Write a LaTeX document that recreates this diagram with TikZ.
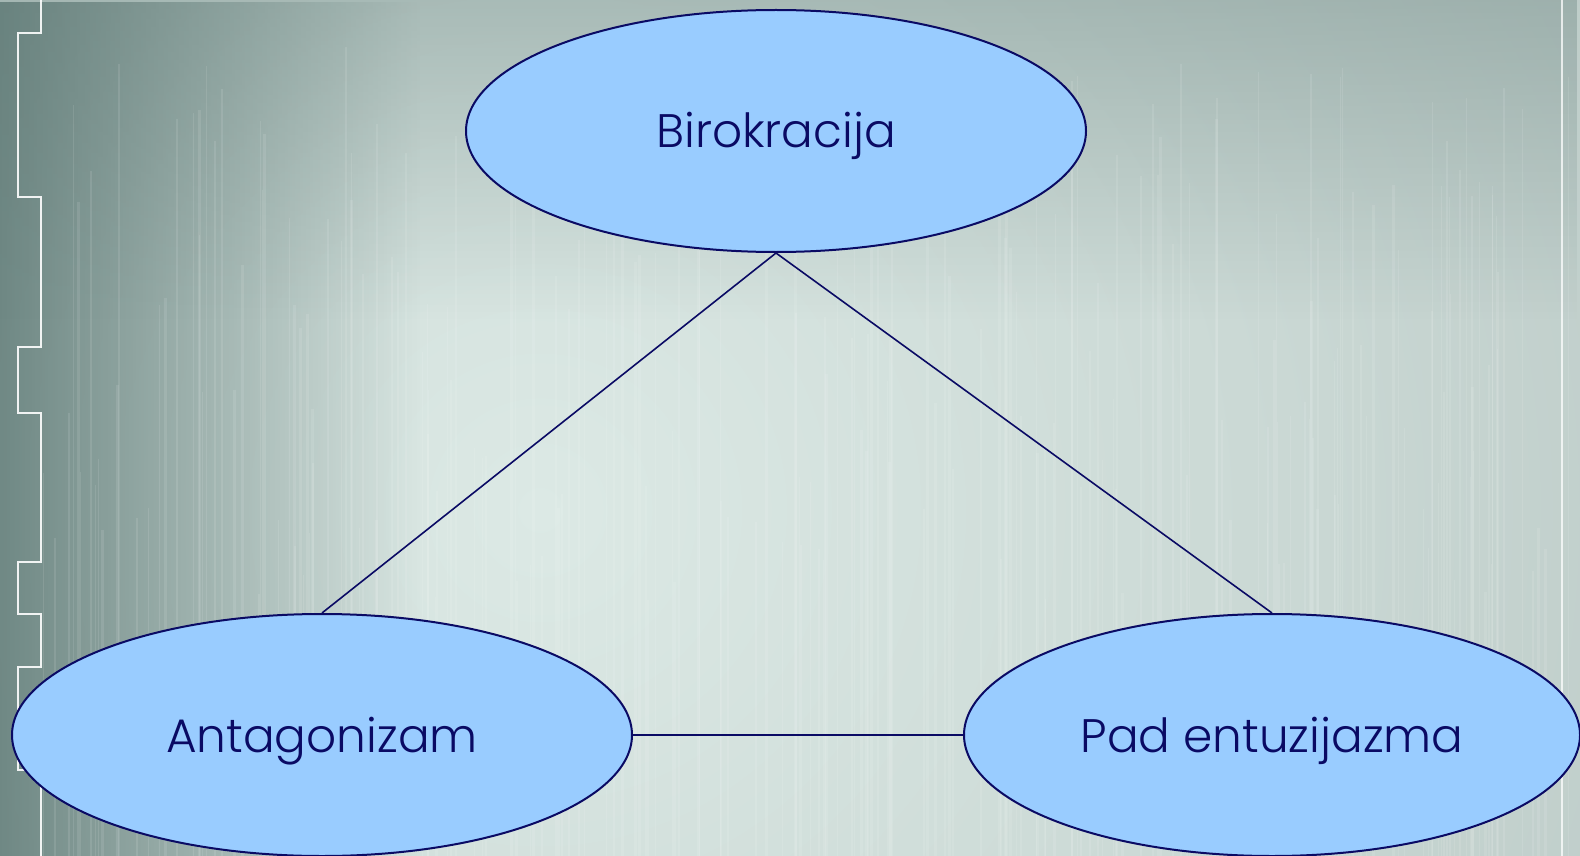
\documentclass[tikz,border=0pt]{standalone}
\usepackage{fontspec}
\setmainfont{Poppins}[UprightFont={* Light}]
\usetikzlibrary{shapes.geometric,fadings}
\definecolor{navy}{HTML}{0A0A64}
\definecolor{ellfill}{HTML}{99CCFF}
\definecolor{bgA}{HTML}{DCE9E5}
\definecolor{bgB}{HTML}{CCDAD6}
\definecolor{bgC}{HTML}{AEBDBA}
\definecolor{bgD}{HTML}{A6B4B2}
\definecolor{bgDark}{HTML}{5F7A76}
\pgfdeclareradialshading{bgshade}{\pgfpoint{0bp}{0bp}}{color(0bp)=(bgA); color(6bp)=(bgB); color(16bp)=(bgC); color(26bp)=(bgD); color(50bp)=(bgD)}
\tikzfading[name=fadetoright, left color=transparent!0, right color=transparent!100]
\tikzfading[name=fadetodown, top color=transparent!0, bottom color=transparent!100]
\tikzset{
  bubble/.style={ellipse, draw=navy, line width=2pt, fill=ellfill, inner sep=0pt,
    minimum width=620pt, minimum height=242pt, text=navy,
    font=\fontsize{47}{50}\selectfont, text height=34pt, text depth=0pt},
  link/.style={draw=navy, line width=1.6pt},
  frameline/.style={draw=white, line width=1.6pt, opacity=0.9},
  texture/.style={draw=white, opacity=0.10},
}
\begin{document}
\begin{tikzpicture}[x=1pt,y=-1pt]
\useasboundingbox (0,0) rectangle (1580,856);
\begin{scope}
\clip (0,0) rectangle (1580,856);
% base background
\fill[bgD] (0,0) rectangle (1580,856);
\shade[shading=bgshade] (540,510) circle (2800);
% darker left band
\fill[bgDark, path fading=fadetoright, opacity=0.85] (0,0) rectangle (420,856);
% slightly darker top
\fill[bgDark, path fading=fadetodown, opacity=0.35] (0,0) rectangle (1580,320);
% vertical texture lines
\pgfmathsetseed{17}
\foreach \i in {1,...,220}{
  \pgfmathsetmacro{\xx}{40+rnd*1530}
  \pgfmathsetmacro{\yy}{40+rnd*560}
  \pgfmathsetmacro{\ww}{0.6+rnd*2.4}
  \draw[texture, line width=\ww pt] (\xx,856) -- (\xx,\yy);
}
% stepped white frame line on the left
\draw[frameline] (41,0) -- (41,33) -- (18,33) -- (18,197) -- (41,197) -- (41,347)
  -- (18,347) -- (18,413) -- (41,413) -- (41,562) -- (18,562) -- (18,614)
  -- (41,614) -- (41,667) -- (18,667) -- (18,770) -- (41,770) -- (41,856);
% thin line on the right
\draw[draw=white, line width=1.4pt, opacity=0.75] (1562,0) -- (1562,856);
\end{scope}
% nodes
\node[bubble] (biro) at (776,131) {Birokracija};
\node[bubble] (anta) at (322,735) {Antagonizam};
\node[bubble, minimum width=616pt] (pad) at (1272,735) {Pad entuzijazma};
% connectors
\draw[link] (biro.south) -- (anta.north);
\draw[link] (biro.south) -- (pad.north);
\draw[link] (anta.east) -- (pad.west);
\end{tikzpicture}
\end{document}
